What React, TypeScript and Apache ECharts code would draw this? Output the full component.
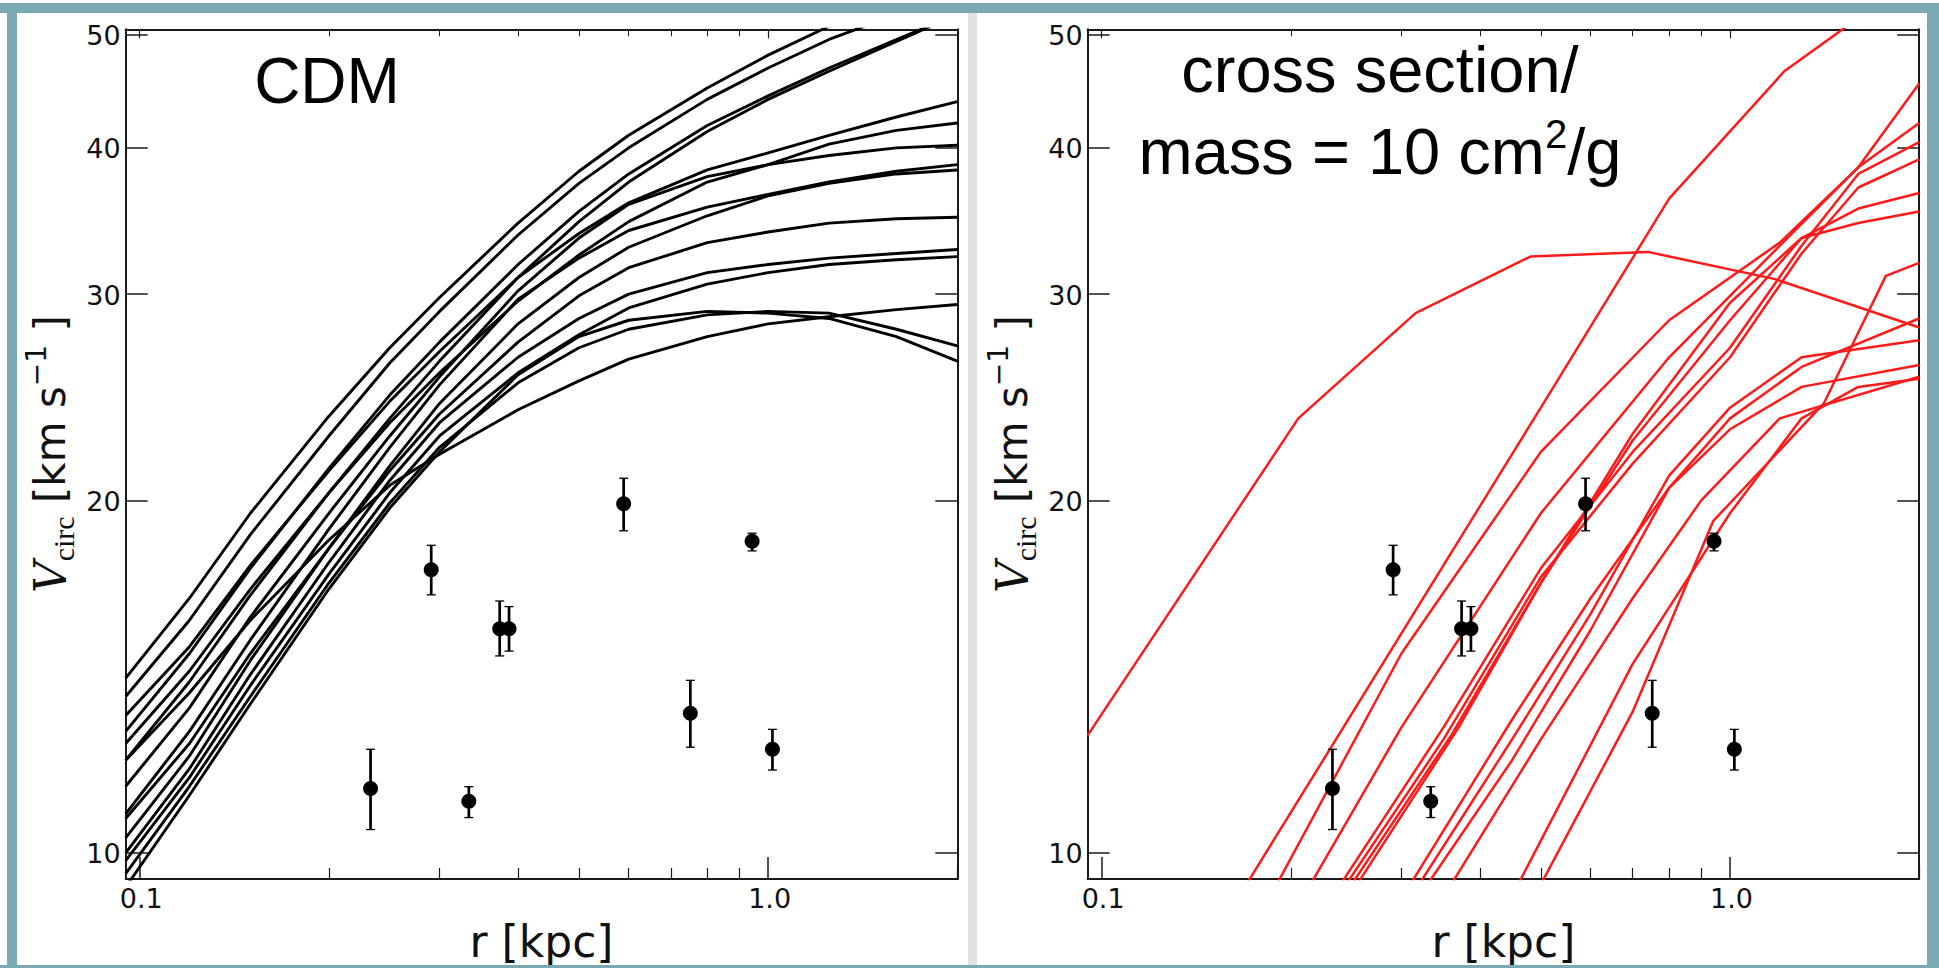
import React, { useEffect, useRef } from "react";
import * as echarts from "echarts";

const W = 1939;
const H = 968;

// axis ranges (data units)
const X_MIN = 0.095;
const X_MAX = 2.0;
const Y_MIN = 9.5;
const Y_MAX = 50.5;

const xMajorTicks = [0.1, 1.0];
const xMinorTicks = [0.2, 0.3, 0.4, 0.5, 0.6, 0.7, 0.8, 0.9, 2.0];
const yMajorTicks = [10, 20, 30, 40, 50];

// observed dwarf rotation points: radius [kpc], Vcirc and its error range [km/s]
const obsR = [0.233, 0.291, 0.334, 0.374, 0.387, 0.589, 0.752, 0.943, 1.016];
const obsV = [11.35, 17.45, 11.07, 15.54, 15.54, 19.87, 13.16, 18.46, 12.26];
const obsLo = [10.47, 16.61, 10.72, 14.73, 14.87, 18.84, 12.31, 18.11, 11.77];
const obsHi = [12.26, 18.31, 11.39, 16.41, 16.23, 20.89, 14.04, 18.75, 12.75];

// CDM subhalo rotation curves, sampled on a common radius grid
const cdmR = [0.095, 0.12, 0.15, 0.2, 0.25, 0.3, 0.4, 0.5, 0.6, 0.8, 1.0, 1.25, 1.6, 2.0];
const cdm1 = [14.1, 16.5, 19.5, 23.6, 27.0, 29.8, 34.5, 38.2, 41.0, 45.0, 48.0, 50.8, 53.0, 56.0];
const cdm2 = [13.6, 15.8, 18.7, 22.7, 26.2, 29.0, 33.7, 37.3, 40.0, 44.0, 46.8, 49.5, 52.0, 55.0];
const cdm3 = [12.7, 14.8, 17.5, 21.3, 24.6, 27.3, 31.8, 35.3, 38.0, 41.8, 44.3, 46.8, 49.5, 52.0];
const cdm4 = [12.0, 14.0, 16.6, 20.3, 23.5, 26.3, 31.0, 34.6, 37.4, 41.3, 44.0, 46.5, 49.3, 52.0];
const cdm5 = [13.1, 15.0, 17.6, 21.2, 24.3, 26.8, 31.0, 33.8, 35.9, 38.3, 39.6, 41.0, 42.5, 43.8];
const cdm6 = [12.4, 14.3, 16.8, 20.3, 23.3, 25.7, 29.6, 32.4, 34.6, 37.4, 38.7, 40.3, 41.4, 42.0];
const cdm7 = [11.4, 13.3, 15.9, 19.5, 22.7, 25.5, 30.2, 33.5, 35.8, 37.8, 38.7, 39.4, 40.0, 40.2];
const cdm8 = [10.8, 12.7, 15.2, 18.9, 22.2, 25.1, 29.7, 32.2, 34.0, 35.6, 36.5, 37.4, 38.2, 38.7];
const cdm9 = [10.3, 12.1, 14.6, 18.2, 21.4, 24.2, 28.3, 31.0, 32.9, 35.0, 36.4, 37.3, 38.0, 38.3];
const cdm10 = [10.7, 12.4, 14.8, 18.2, 21.2, 23.7, 27.3, 29.9, 31.6, 33.2, 33.9, 34.5, 34.8, 34.9];
const cdm11 = [10.0, 11.8, 14.2, 17.7, 20.8, 23.3, 26.5, 28.6, 30.0, 31.3, 31.8, 32.2, 32.5, 32.75];
const cdm12 = [9.85, 11.6, 13.9, 17.3, 20.3, 22.7, 25.7, 27.7, 29.2, 30.6, 31.3, 31.8, 32.1, 32.3];
const cdm13 = [12.0, 13.7, 15.8, 18.5, 20.6, 21.9, 23.9, 25.3, 26.4, 27.6, 28.3, 28.7, 29.1, 29.4];
const cdm14 = [9.6, 11.4, 13.6, 17.0, 19.9, 22.2, 25.2, 27.0, 28.0, 28.8, 29.0, 28.9, 28.0, 27.1];
const cdm15 = [9.35, 11.2, 13.4, 16.8, 19.7, 22.0, 25.6, 27.6, 28.5, 29.0, 28.9, 28.6, 27.6, 26.3];
const cdmCurves = [cdm1, cdm2, cdm3, cdm4, cdm5, cdm6, cdm7, cdm8, cdm9, cdm10, cdm11, cdm12, cdm13, cdm14, cdm15];

// SIDM (sigma/m = 10 cm^2/g) rotation curves: radius list and velocity list per halo
const sidm1R = [0.095, 0.2056, 0.316, 0.481, 0.74, 1.18, 2.0];
const sidm1V = [12.6, 23.5, 28.9, 32.3, 32.6, 30.9, 28.1];
const sidm2R = [0.17, 0.5, 0.8, 1.22, 1.55];
const sidm2V = [9.4, 24.0, 36.2, 46.5, 51.0];
const sidm3R = [0.19, 0.3, 0.5, 0.8, 1.2, 1.6, 2.0];
const sidm3V = [9.4, 14.8, 22.0, 28.5, 33.2, 38.5, 45.4];
const sidm4R = [0.215, 0.3, 0.5, 0.8, 1.2, 1.6, 2.0];
const sidm4V = [9.4, 12.8, 19.5, 26.5, 33.0, 38.5, 42.0];
const sidm5R = [0.24, 0.35, 0.5, 0.7, 1.0, 1.3, 1.6, 2.0];
const sidm5V = [9.4, 12.8, 17.5, 22.0, 27.0, 33.0, 38.0, 40.45];
const sidm6R = [0.245, 0.35, 0.5, 0.7, 1.0, 1.3, 1.6, 2.0];
const sidm6V = [9.4, 12.5, 17.2, 21.5, 26.5, 32.5, 37.0, 39.1];
const sidm7R = [0.25, 0.36, 0.5, 0.7, 1.0, 1.3, 1.6, 2.0];
const sidm7V = [9.4, 12.6, 17.0, 22.5, 28.5, 33.5, 35.5, 36.6];
const sidm8R = [0.255, 0.37, 0.5, 0.7, 1.0, 1.3, 1.6, 2.0];
const sidm8V = [9.4, 12.8, 17.0, 22.8, 29.5, 33.5, 34.5, 35.3];
const sidm9R = [0.31, 0.45, 0.6, 0.8, 1.0, 1.3, 2.0];
const sidm9V = [9.4, 13.0, 16.5, 20.5, 23.5, 26.0, 28.6];
const sidm10R = [0.32, 0.45, 0.6, 0.8, 1.0, 1.3, 2.0];
const sidm10V = [9.4, 12.5, 16.0, 21.0, 24.0, 26.5, 27.4];
const sidm11R = [0.33, 0.45, 0.6, 0.8, 1.0, 1.3, 2.0];
const sidm11V = [9.4, 12.0, 15.5, 20.5, 23.0, 25.0, 26.1];
const sidm12R = [0.36, 0.5, 0.7, 0.9, 1.2, 2.0];
const sidm12V = [9.4, 12.5, 16.5, 20.0, 23.5, 25.5];
const sidm13R = [0.5, 0.7, 0.94, 1.41, 1.77, 2.0];
const sidm13V = [9.4, 13.2, 19.2, 24.2, 31.1, 31.9];
const sidm14R = [0.46, 0.7, 1.0, 1.3, 1.6, 2.0];
const sidm14V = [9.4, 14.5, 19.5, 23.5, 25.0, 25.4];
const sidmCurves = [
  [sidm1R, sidm1V], [sidm2R, sidm2V], [sidm3R, sidm3V], [sidm4R, sidm4V],
  [sidm5R, sidm5V], [sidm6R, sidm6V], [sidm7R, sidm7V], [sidm8R, sidm8V],
  [sidm9R, sidm9V], [sidm10R, sidm10V], [sidm11R, sidm11V], [sidm12R, sidm12V],
  [sidm13R, sidm13V], [sidm14R, sidm14V],
];

// panel frames in page pixels
const PLOT_TOP = 29.3;
const PLOT_H = 860.7;
const PLOT_W = 831.6;
const PANEL_LEFT = [125.7, 1087.6];

const TEAL = "#79aab4";
const AXIS_COLOR = "#1a1a1a";
const TICK_FONT = "DejaVu Sans";
const TICK_SIZE = 27;

const lg = (v: number) => Math.log10(v);

function xAxesFor(g: number) {
  const base = {
    gridIndex: g,
    type: "value" as const,
    min: lg(X_MIN),
    max: lg(X_MAX),
    splitLine: { show: false },
    axisLabel: { show: false },
  };
  return [
    {
      ...base,
      position: "bottom",
      axisLine: { show: true, onZero: false, lineStyle: { color: AXIS_COLOR, width: 2 } },
      axisTick: {
        show: true, inside: true, length: 22,
        customValues: xMajorTicks.map(lg),
        lineStyle: { color: AXIS_COLOR, width: 1.5 },
      },
      name: "r [kpc]",
      nameLocation: "middle",
      nameGap: 40,
      nameTextStyle: { fontFamily: TICK_FONT, fontSize: 44, color: "#111" },
    },
    {
      ...base,
      position: "bottom",
      axisLine: { show: false, onZero: false },
      axisTick: {
        show: true, inside: true, length: 11,
        customValues: xMinorTicks.map(lg),
        lineStyle: { color: AXIS_COLOR, width: 1.2 },
      },
    },
    {
      ...base,
      position: "top",
      axisLine: { show: true, onZero: false, lineStyle: { color: AXIS_COLOR, width: 2 } },
      axisTick: {
        show: true, inside: true, length: 9,
        customValues: xMajorTicks.map(lg),
        lineStyle: { color: AXIS_COLOR, width: 1.2 },
      },
    },
    {
      ...base,
      position: "top",
      axisLine: { show: false, onZero: false },
      axisTick: {
        show: true, inside: true, length: 7,
        customValues: xMinorTicks.map(lg),
        lineStyle: { color: AXIS_COLOR, width: 1 },
      },
    },
  ];
}

function yAxesFor(g: number) {
  const base = {
    gridIndex: g,
    type: "value" as const,
    min: lg(Y_MIN),
    max: lg(Y_MAX),
    splitLine: { show: false },
    axisLabel: { show: false },
  };
  return [
    {
      ...base,
      position: "left",
      axisLine: { show: true, onZero: false, lineStyle: { color: AXIS_COLOR, width: 2 } },
      axisTick: {
        show: true, inside: true, length: 22,
        customValues: yMajorTicks.map(lg),
        lineStyle: { color: AXIS_COLOR, width: 1.5 },
      },
      name: "{v|V}{sub|circ}{t| [km s}{sup|−1}{t| ]}",
      nameLocation: "middle",
      nameRotate: 90,
      nameGap: 45,
      nameTextStyle: {
        rich: {
          v: { fontFamily: "DejaVu Serif", fontStyle: "italic", fontSize: 44, color: "#111", lineHeight: 60, verticalAlign: "middle" },
          sub: { fontFamily: "Liberation Serif", fontSize: 30, color: "#111", lineHeight: 60, verticalAlign: "bottom", padding: [0, 0, 2, 0] },
          t: { fontFamily: TICK_FONT, fontSize: 42, color: "#111", lineHeight: 60, verticalAlign: "middle" },
          sup: { fontFamily: TICK_FONT, fontSize: 28, color: "#111", lineHeight: 60, verticalAlign: "top", padding: [2, 0, 0, 0] },
        },
      },
    },
    {
      ...base,
      position: "right",
      axisLine: { show: true, onZero: false, lineStyle: { color: AXIS_COLOR, width: 2 } },
      axisTick: {
        show: true, inside: true, length: 22,
        customValues: yMajorTicks.map(lg),
        lineStyle: { color: AXIS_COLOR, width: 1.5 },
      },
    },
  ];
}

function obsSeries(g: number) {
  const xi = g * 4;
  const yi = g * 2;
  return [
    {
      type: "custom",
      xAxisIndex: xi,
      yAxisIndex: yi,
      clip: true,
      z: 5,
      encode: { x: 0, y: [1, 2] },
      data: obsR.map((r, i) => [lg(r), lg(obsLo[i]), lg(obsHi[i])]),
      renderItem: (_p: any, api: any) => {
        const lo = api.coord([api.value(0), api.value(1)]);
        const hi = api.coord([api.value(0), api.value(2)]);
        const cap = 4.5;
        const stroke = "#000";
        return {
          type: "group",
          children: [
            { type: "line", shape: { x1: lo[0], y1: lo[1], x2: hi[0], y2: hi[1] }, style: { stroke, lineWidth: 2.7 } },
            { type: "line", shape: { x1: lo[0] - cap, y1: lo[1], x2: lo[0] + cap, y2: lo[1] }, style: { stroke, lineWidth: 1.3 } },
            { type: "line", shape: { x1: hi[0] - cap, y1: hi[1], x2: hi[0] + cap, y2: hi[1] }, style: { stroke, lineWidth: 1.3 } },
          ],
        };
      },
    },
    {
      type: "scatter",
      xAxisIndex: xi,
      yAxisIndex: yi,
      z: 6,
      symbol: "circle",
      symbolSize: 15,
      itemStyle: { color: "#000", opacity: 1 },
      data: obsR.map((r, i) => [lg(r), lg(obsV[i])]),
    },
  ];
}

function lineSeries(g: number, rs: number[], vs: number[], color: string, width: number) {
  return {
    type: "line",
    xAxisIndex: g * 4,
    yAxisIndex: g * 2,
    symbol: "none",
    clip: true,
    z: 3,
    lineStyle: { color, width, join: "round" },
    data: rs.map((r, i) => [lg(r), lg(vs[i])]),
  };
}

function buildOption(tickLabels: any[]) {
  const series: any[] = [];
  cdmCurves.forEach((vs) => series.push(lineSeries(0, cdmR, vs, "#000", 2.9)));
  sidmCurves.forEach(([rs, vs]) => series.push(lineSeries(1, rs, vs, "#ff1a1a", 2.5)));
  series.push(...obsSeries(0), ...obsSeries(1));

  return {
    animation: false,
    backgroundColor: "#ffffff",
    grid: PANEL_LEFT.map((left) => ({
      left, top: PLOT_TOP, width: PLOT_W, height: PLOT_H, containLabel: false,
    })),
    xAxis: [...xAxesFor(0), ...xAxesFor(1)],
    yAxis: [...yAxesFor(0), ...yAxesFor(1)],
    series,
    graphic: [
      // page frame and panel divider
      { type: "rect", shape: { x: 0, y: 3, width: W, height: 10 }, style: { fill: TEAL }, z: 100 },
      { type: "rect", shape: { x: 7, y: 3, width: 10, height: H }, style: { fill: TEAL }, z: 100 },
      { type: "rect", shape: { x: 1927, y: 3, width: 12, height: H }, style: { fill: TEAL }, z: 100 },
      { type: "rect", shape: { x: 0, y: 965, width: W, height: 3 }, style: { fill: TEAL }, z: 100 },
      { type: "rect", shape: { x: 968, y: 13, width: 9, height: 952 }, style: { fill: "#e2e2e6" }, z: 100 },
      // panel labels
      {
        type: "text", x: 327, y: 113, z: 50,
        style: { text: "CDM", fontFamily: "Liberation Sans", fontSize: 64, fill: "#000", textAlign: "center", textVerticalAlign: "bottom" },
      },
      {
        type: "text", x: 1380, y: 102, z: 50,
        style: { text: "cross section/", fontFamily: "Liberation Sans", fontSize: 65, fill: "#000", textAlign: "center", textVerticalAlign: "bottom" },
      },
      {
        type: "text", x: 1380, y: 184, z: 50,
        style: {
          text: "{a|mass = 10 cm}{s|2}{a|/g}",
          textAlign: "center", textVerticalAlign: "bottom",
          rich: {
            a: { fontFamily: "Liberation Sans", fontSize: 65, fill: "#000", lineHeight: 70, verticalAlign: "bottom" },
            s: { fontFamily: "Liberation Sans", fontSize: 40, fill: "#000", lineHeight: 70, verticalAlign: "top" },
          },
        },
      },
      ...tickLabels,
    ],
  };
}

// tick labels placed at the pixel positions the axes give for each tick value
function tickLabelGraphics(chart: echarts.ECharts) {
  const out: any[] = [];
  [0, 1].forEach((g) => {
    const finder = { xAxisIndex: g * 4, yAxisIndex: g * 2 };
    xMajorTicks.forEach((v) => {
      const p = chart.convertToPixel(finder, [lg(v), lg(Y_MIN)]) as number[];
      out.push({
        type: "text", x: p[0] + 1.5, y: p[1] + 6, z: 60,
        style: { text: v.toFixed(1), fontFamily: TICK_FONT, fontSize: TICK_SIZE, fill: "#111", textAlign: "center", textVerticalAlign: "top" },
      });
    });
    yMajorTicks.forEach((v) => {
      const p = chart.convertToPixel(finder, [lg(X_MIN), lg(v)]) as number[];
      out.push({
        type: "text", x: p[0] - 5, y: p[1] + 1, z: 60,
        style: { text: String(v), fontFamily: TICK_FONT, fontSize: TICK_SIZE, fill: "#111", textAlign: "right", textVerticalAlign: "middle" },
      });
    });
  });
  return out;
}

export default function App() {
  const ref = useRef<HTMLDivElement>(null);
  useEffect(() => {
    document.body.style.margin = "0";
    if (!ref.current) return;
    const chart = echarts.init(ref.current, undefined, { renderer: "svg", width: W, height: H });
    chart.setOption(buildOption([]) as any);
    chart.setOption(buildOption(tickLabelGraphics(chart)) as any, true);
    return () => chart.dispose();
  }, []);
  return <div ref={ref} style={{ width: W, height: H }} />;
}
